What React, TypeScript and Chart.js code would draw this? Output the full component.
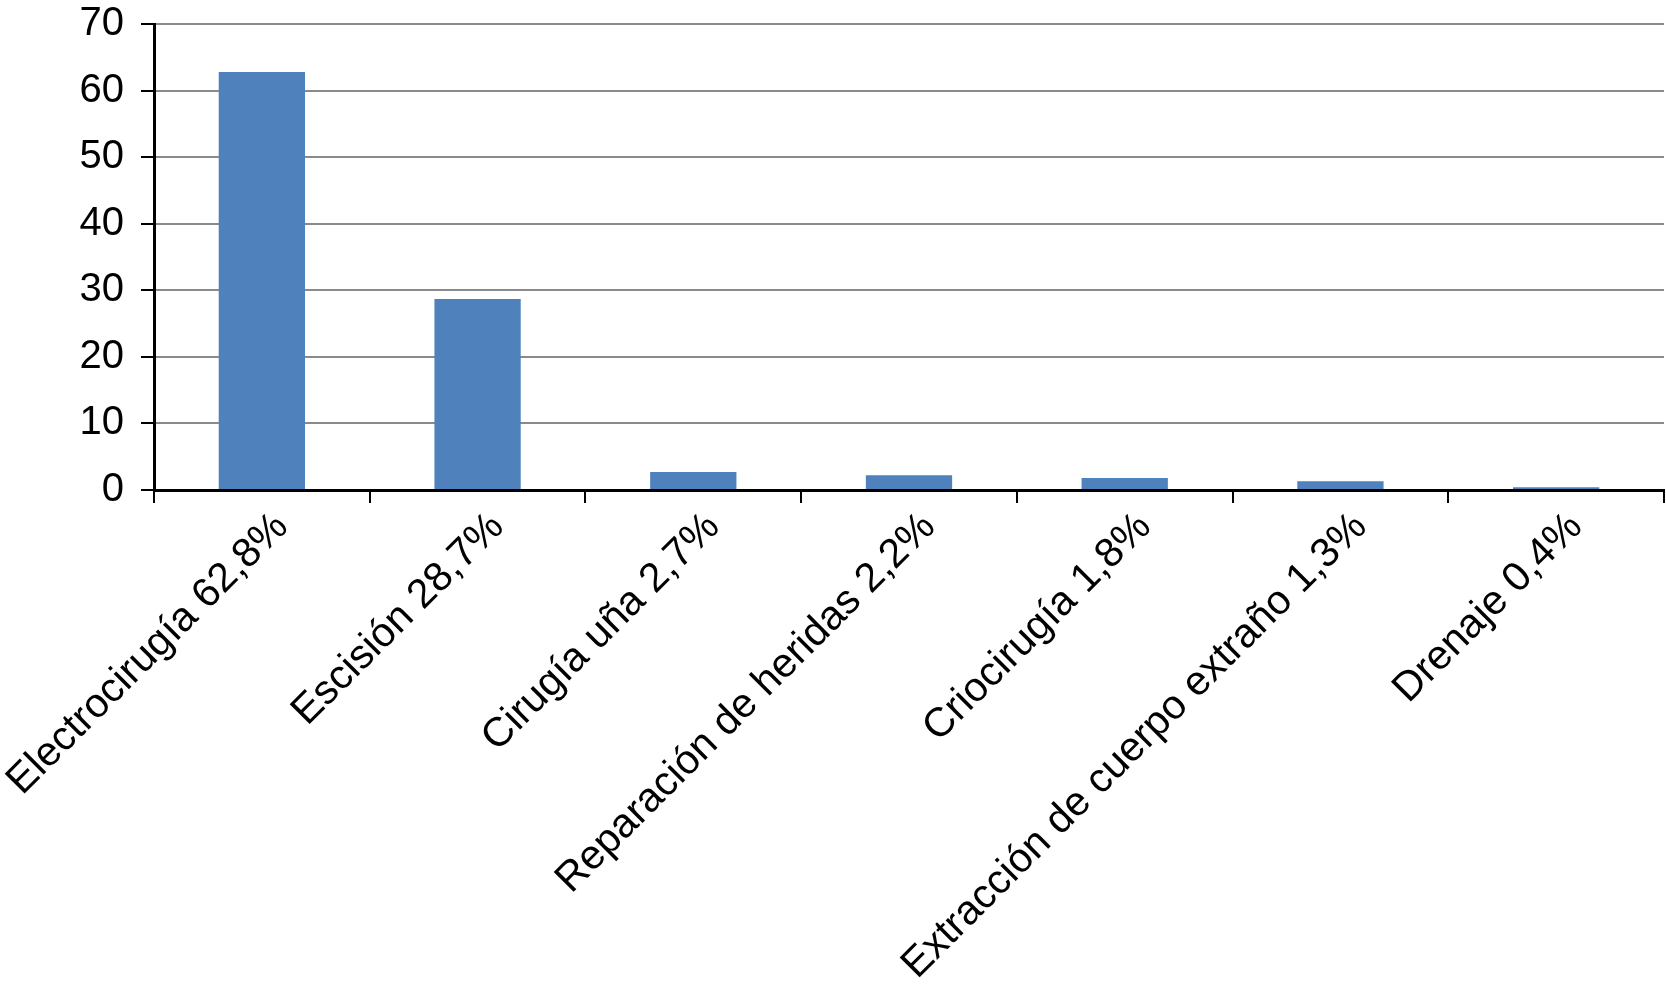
import React, { useEffect, useRef } from "react";
import { Chart, registerables } from "chart.js";

Chart.register(...registerables);

const categories = [
  "Electrocirugía 62,8%",
  "Escisión 28,7%",
  "Cirugía uña 2,7%",
  "Reparación de heridas 2,2%",
  "Criocirugía 1,8%",
  "Extracción de cuerpo extraño 1,3%",
  "Drenaje 0,4%",
];
const values = [62.8, 28.7, 2.7, 2.2, 1.8, 1.3, 0.4];
const yMin = 0;
const yMax = 70;
const yStep = 10;

const FONT = "'Liberation Sans', Arial, Helvetica, sans-serif";

const shifted = new WeakSet<object>();
const labelShift = {
  id: "labelShift",
  beforeDraw(chart: any) {
    const s = chart.scales.x;
    if (!s) return;
    const items = s.getLabelItems(chart.chartArea);
    if (shifted.has(items)) return;
    shifted.add(items);
    items.forEach((it: any) => {
      it.options.translation = [it.options.translation[0] + 20, it.options.translation[1]];
    });
  },
};

export default function App() {
  const ref = useRef<HTMLCanvasElement | null>(null);
  useEffect(() => {
    if (!ref.current) return;
    const chart = new Chart(ref.current, {
      type: "bar",
      data: {
        labels: categories,
        datasets: [
          {
            data: values,
            backgroundColor: "#4F81BD",
            borderWidth: 0,
            barPercentage: 0.4,
            categoryPercentage: 1,
          },
        ],
      },
      plugins: [labelShift],
      options: {
        responsive: false,
        animation: false,
        layout: { padding: { top: 24, right: 2, left: 0, bottom: 0 } },
        plugins: { legend: { display: false }, tooltip: { enabled: false } },
        scales: {
          x: {
            offset: true,
            grid: {
              offset: true,
              drawOnChartArea: false,
              drawTicks: true,
              tickLength: 13,
              tickColor: "#000",
              lineWidth: 2,
            },
            border: { display: true, color: "#000", width: 3 },
            ticks: {
              maxRotation: 45,
              minRotation: 45,
              autoSkip: false,
              color: "#000",
              padding: 0,
              font: { family: FONT, size: 41 },
            },
            afterFit: (s: any) => {
              s.height = 506;
              s.paddingLeft = 0;
              s.paddingRight = 0;
            },
          },
          y: {
            min: yMin,
            max: yMax,
            ticks: {
              stepSize: yStep,
              color: "#000",
              padding: 17,
              font: { family: FONT, size: 40 },
            },
            grid: {
              color: "#8a8a8a",
              lineWidth: 2,
              drawTicks: true,
              tickLength: 13,
              tickColor: "#000",
            },
            border: { display: true, color: "#000", width: 3 },
            afterFit: (s: any) => {
              s.width = 154;
              s.paddingTop = 0;
              s.paddingBottom = 0;
            },
          },
        },
      },
    });
    return () => chart.destroy();
  }, []);
  return (
    <div style={{ position: "fixed", left: 0, top: 0, width: 1666, height: 996, background: "#fff" }}>
      <canvas ref={ref} width={1666} height={996} style={{ width: 1666, height: 996 }} />
    </div>
  );
}
